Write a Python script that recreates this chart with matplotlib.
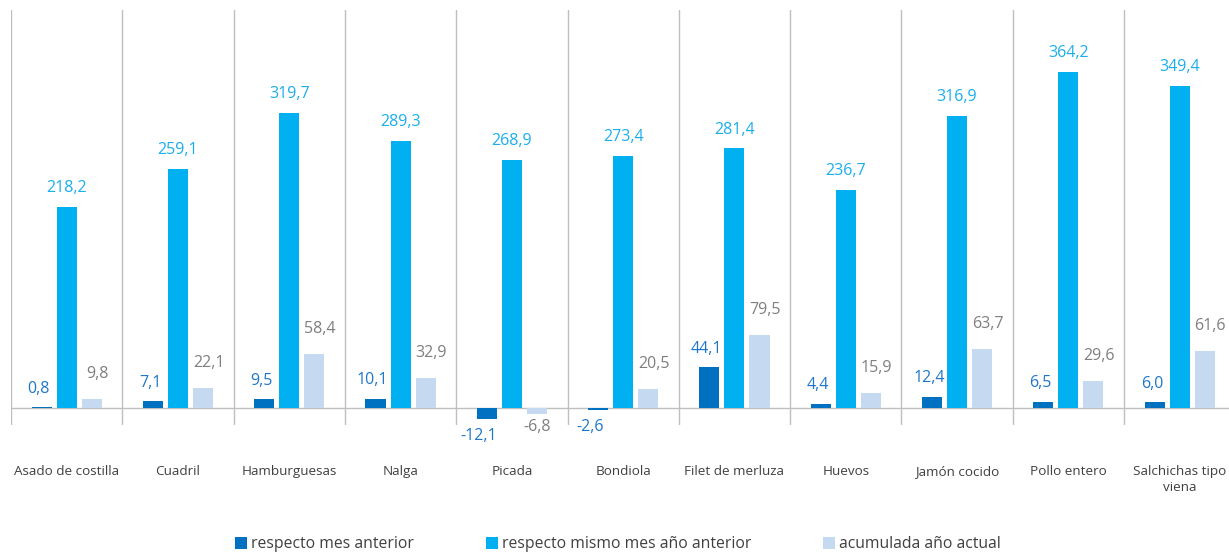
import matplotlib
matplotlib.use("Agg")
import matplotlib.pyplot as plt
import numpy as np

plt.rcParams["font.family"] = ["Open Sans", "DejaVu Sans"]

categories = ["Asado de costilla", "Cuadril", "Hamburguesas", "Nalga", "Picada",
              "Bondiola", "Filet de merluza", "Huevos", "Jamón cocido",
              "Pollo entero", "Salchichas tipo\nviena"]
mes_anterior = [0.8, 7.1, 9.5, 10.1, -12.1, -2.6, 44.1, 4.4, 12.4, 6.5, 6.0]
mismo_mes = [218.2, 259.1, 319.7, 289.3, 268.9, 273.4, 281.4, 236.7, 316.9, 364.2, 349.4]
acumulada = [9.8, 22.1, 58.4, 32.9, -6.8, 20.5, 79.5, 15.9, 63.7, 29.6, 61.6]
series_names = ["respecto mes anterior", "respecto mismo mes año anterior", "acumulada año actual"]

bar_colors = ["#0070C0", "#00B0F0", "#C5D9F1"]
label_colors = ["#1F77C9", "#1AAEEC", "#7F7F7F"]

W, H = 1229, 552
fig = plt.figure(figsize=(W / 100, H / 100), dpi=100)
ax = fig.add_axes([11 / W, 1 - 425 / H, (W - 11) / W, 415 / H])

x = np.arange(len(categories))
step, bw = 0.225, 0.18
cat_w = 111.3
ax.set_xlim(-0.5, -0.5 + (W - 11) / cat_w)
ax.set_ylim(-18.4, 431.4)

for i, (vals, col, lcol) in enumerate(zip([mes_anterior, mismo_mes, acumulada], bar_colors, label_colors)):
    xs = x + (i - 1) * step
    ax.bar(xs, vals, width=bw, color=col, label=series_names[i], zorder=2)
    for xi, v in zip(xs, vals):
        txt = f"{v:.1f}".replace(".", ",")
        if v >= 0:
            dy = 18 if i == 2 else 13.5
            dx = 4 if i == 2 else (-2 if i == 0 else 0)
        else:
            dy = -9 if i == 2 else -12
            dx = 0 if i == 2 else -6
        ax.annotate(txt, (xi, v), xytext=(dx, dy), textcoords="offset points",
                    ha="center", va="center", color=lcol, fontsize=11.5)

for b in np.arange(-0.5, len(categories), 1.0):
    ax.axvline(b, color="#BFBFBF", lw=1, zorder=1)
ax.axhline(0, color="#BFBFBF", lw=1, zorder=1)

for s in ax.spines.values():
    s.set_visible(False)
ax.set_yticks([])
ax.set_xticks(x)
ax.set_xticklabels(categories, fontsize=9.7, color="#404040", linespacing=1.3)
ax.tick_params(axis="x", length=0, pad=28.5)

fig.legend(loc="center", bbox_to_anchor=(0.503, 0.014), ncol=3, frameon=False,
           fontsize=11.3, handlelength=0.75, handleheight=0.75, handletextpad=0.25,
           columnspacing=4.6, labelcolor="#404040")

fig.savefig("out.png", dpi=100)
